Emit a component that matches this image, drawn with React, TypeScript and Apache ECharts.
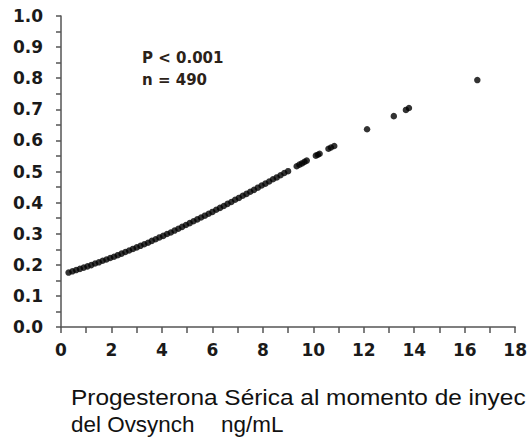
import React, { useEffect, useRef } from "react";
import * as echarts from "echarts";

// Serum progesterone (ng/mL) at Ovsynch injection
const progesterone: number[] = [
  0.3, 0.45, 0.6, 0.75, 0.9, 1.05, 1.2, 1.35, 1.5, 1.65, 1.8, 1.95, 2.1, 2.25, 2.4, 2.55,
  2.7, 2.85, 3.0, 3.15, 3.3, 3.45, 3.6, 3.75, 3.9, 4.05, 4.2, 4.35, 4.5, 4.65, 4.8, 4.95,
  5.1, 5.25, 5.4, 5.55, 5.7, 5.85, 6.0, 6.15, 6.3, 6.45, 6.6, 6.75, 6.9, 7.05, 7.2, 7.35,
  7.5, 7.65, 7.8, 7.95, 8.1, 8.25, 8.4, 8.55, 8.7, 8.85, 9.0, 9.34, 9.45, 9.55, 9.65, 9.74,
  10.1, 10.18, 10.25, 10.6, 10.7, 10.83, 12.13, 13.19, 13.67, 13.79, 16.5,
];
// Predicted probability
const probability: number[] = [
  0.175, 0.179, 0.183, 0.187, 0.191, 0.195, 0.199, 0.204, 0.208, 0.213, 0.217, 0.222, 0.226, 0.231, 0.236, 0.241,
  0.246, 0.251, 0.256, 0.261, 0.266, 0.271, 0.277, 0.282, 0.288, 0.293, 0.299, 0.304, 0.31, 0.316, 0.322, 0.328,
  0.334, 0.34, 0.346, 0.352, 0.358, 0.364, 0.37, 0.377, 0.383, 0.389, 0.396, 0.402, 0.409, 0.415, 0.422, 0.428,
  0.435, 0.441, 0.448, 0.455, 0.461, 0.468, 0.475, 0.481, 0.488, 0.495, 0.501, 0.517, 0.522, 0.526, 0.531, 0.535,
  0.551, 0.554, 0.557, 0.573, 0.577, 0.582, 0.636, 0.678, 0.698, 0.704, 0.794,
];

const annotationLines: string[] = ["P < 0.001", "n = 490"];
const xTitleLine1 = "Progesterona Sérica al momento de inyec";
const xTitleLine2a = "del Ovsynch";
const xTitleLine2b = "ng/mL";

export default function App() {
  const ref = useRef<HTMLDivElement>(null);
  useEffect(() => {
    if (!ref.current) return;
    const chart = echarts.init(ref.current, null, { renderer: "svg" });
    const data = progesterone.map((x, i) => [x, probability[i]]);
    const axisColor = "#555555";
    const labelFont = {
      fontFamily: "DejaVu Sans",
      fontWeight: "bold" as const,
      fontSize: 17,
      color: "#1a1a1a",
    };
    const titleStyle = {
      fontFamily: "Liberation Sans",
      fontSize: 22,
      fill: "#111111",
      verticalAlign: "middle",
    };
    chart.setOption({
      animation: false,
      backgroundColor: "#ffffff",
      grid: { left: 61, right: 12, top: 16, bottom: 111, containLabel: false },
      xAxis: {
        type: "value",
        min: 0,
        max: 18,
        interval: 2,
        axisLine: { show: true, lineStyle: { color: axisColor, width: 1.5 } },
        axisTick: { show: true, length: 6, lineStyle: { color: axisColor, width: 1.5 } },
        minorTick: { show: true, splitNumber: 2, length: 6, lineStyle: { color: axisColor, width: 1.5 } },
        splitLine: { show: false },
        axisLabel: { ...labelFont, margin: 14, formatter: (v: number) => String(v) },
      },
      yAxis: {
        type: "value",
        min: 0,
        max: 1,
        interval: 0.1,
        axisLine: { show: true, lineStyle: { color: axisColor, width: 1.5 } },
        axisTick: { show: true, length: 5, lineStyle: { color: axisColor, width: 1.5 } },
        minorTick: { show: true, splitNumber: 2, length: 5, lineStyle: { color: axisColor, width: 1.5 } },
        splitLine: { show: false },
        axisLabel: { ...labelFont, margin: 18, formatter: (v: number) => v.toFixed(1) },
      },
      series: [
        {
          type: "scatter",
          data,
          symbol: "circle",
          symbolSize: 6.5,
          itemStyle: { color: "#000000" },
        },
      ],
      graphic: [
        {
          type: "text",
          left: 142,
          top: 47,
          style: {
            text: annotationLines.join("\n"),
            fontFamily: "DejaVu Sans",
            fontWeight: "bold",
            fontSize: 15,
            lineHeight: 22,
            fill: "#2b2218",
          },
        },
        {
          type: "text",
          x: 71,
          y: 397,
          scaleX: 1.11,
          style: { text: xTitleLine1, ...titleStyle },
        },
        {
          type: "text",
          x: 71,
          y: 425,
          scaleX: 1.02,
          style: { text: xTitleLine2a, ...titleStyle },
        },
        {
          type: "text",
          x: 221,
          y: 425,
          scaleX: 1.02,
          style: { text: xTitleLine2b, ...titleStyle },
        },
      ],
    });
    return () => chart.dispose();
  }, []);
  return (
    <div
      ref={ref}
      style={{ position: "absolute", left: 0, top: 0, width: 530, height: 438 }}
    />
  );
}
